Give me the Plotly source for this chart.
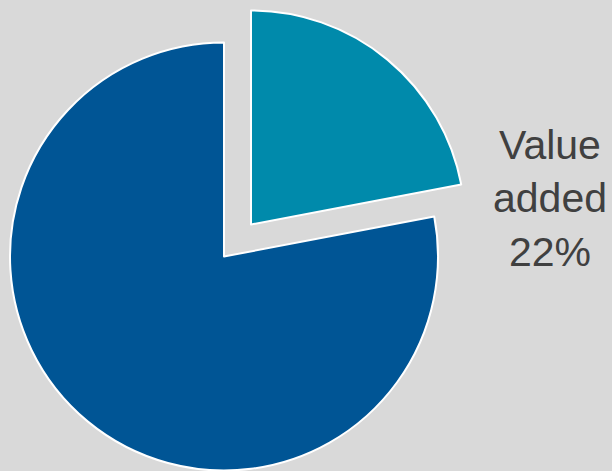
import plotly.graph_objects as go

labels = ["Value added", "Other"]
values = [22, 78]
colors = ["#008aab", "#005595"]
W, H = 612, 471
cx, cy, r = 224, 256.5, 214
dx, dy = 27, -32

def dom(cx, cy):
    return dict(x=[(cx - r) / W, (cx + r) / W], y=[(H - cy - r) / H, (H - cy + r) / H])

fig = go.Figure()
fig.add_trace(go.Pie(
    labels=labels, values=values, sort=False, direction="clockwise", rotation=0,
    marker=dict(colors=["rgba(0,0,0,0)", colors[1]], line=dict(color="white", width=[0, 2])),
    textinfo="none", hoverinfo="label+percent", domain=dom(cx, cy), showlegend=False,
))
fig.add_trace(go.Pie(
    labels=labels, values=values, sort=False, direction="clockwise", rotation=0,
    marker=dict(colors=[colors[0], "rgba(0,0,0,0)"], line=dict(color="white", width=[2, 0])),
    textinfo="none", hoverinfo="label+percent", domain=dom(cx + dx, cy + dy), showlegend=False,
))
fig.add_annotation(
    text=f"{labels[0].split()[0]}<br>{labels[0].split()[1]}<br>{values[0]}%",
    x=550 / W, y=1 - 198 / H, xref="paper", yref="paper", showarrow=False,
    xanchor="center", yanchor="middle",
    font=dict(family="Liberation Sans, Arial", size=41, color="#404040"), align="center",
)
fig.update_layout(
    width=W, height=H, margin=dict(l=0, r=0, t=0, b=0),
    paper_bgcolor="#d9d9d9", plot_bgcolor="#d9d9d9",
)
fig.write_html("out.html")
